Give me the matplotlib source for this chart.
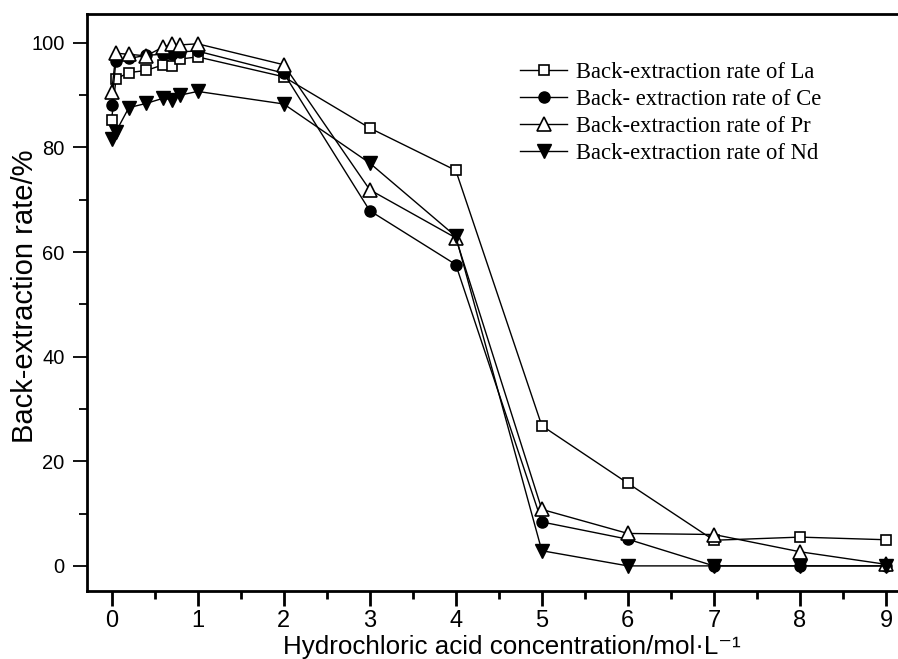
import matplotlib
matplotlib.use("Agg")
import matplotlib.pyplot as plt

x = [0, 0.05, 0.2, 0.4, 0.6, 0.7, 0.8, 1, 2, 3, 4, 5, 6, 7, 8, 9]
la = [85.3, 93.1, 94.3, 94.7, 95.8, 95.5, 96.9, 97.3, 93.5, 83.7, 75.6, 26.8, 15.8, 4.9, 5.5, 5.0]
ce = [88.1, 96.6, 97.0, 97.6, 97.8, 97.8, 98.3, 98.4, 94.2, 67.9, 57.6, 8.4, 5.1, 0.0, 0.0, 0.0]
pr = [90.6, 98.0, 97.8, 97.5, 99.2, 99.7, 99.6, 99.8, 95.8, 71.9, 62.7, 10.8, 6.2, 6.0, 2.7, 0.3]
nd = [81.6, 83.0, 87.6, 88.4, 89.4, 89.1, 90.0, 90.7, 88.3, 77.0, 63.0, 2.9, 0.0, 0.0, 0.0, 0.0]

labels = ["Back-extraction rate of La", "Back- extraction rate of Ce",
          "Back-extraction rate of Pr", "Back-extraction rate of Nd"]
xticks = [0, 1, 2, 3, 4, 5, 6, 7, 8, 9]
yticks = [0, 20, 40, 60, 80, 100]

sans = ["Liberation Sans", "DejaVu Sans"]

fig = plt.figure(figsize=(8.98, 6.59), dpi=100)
ax = fig.add_axes([86.7 / 898, 1 - 591 / 659, (898 - 86.7) / 898, (591 - 14) / 659])

lw = 1.0
ax.plot(x, la, color="black", lw=lw, marker="s", ms=7.5, mfc="white", mec="black", mew=1.2, label=labels[0], zorder=3)
ax.plot(x, ce, color="black", lw=lw, marker="o", ms=8, mfc="black", mec="black", mew=1.0, label=labels[1], zorder=4)
ax.plot(x, pr, color="black", lw=lw, marker="^", ms=10, mfc="white", mec="black", mew=1.2, label=labels[2], zorder=5)
ax.plot(x, nd, color="black", lw=lw, marker="v", ms=10, mfc="black", mec="black", mew=1.0, label=labels[3], zorder=6)

ax.set_xlim(-0.29, 9.14)
ax.set_ylim(-4.8, 105.5)
ax.set_xticks(xticks)
ax.set_xticks([v + 0.5 for v in xticks[:-1]], minor=True)
ax.set_yticks(yticks)
ax.set_yticks([10, 30, 50, 70, 90], minor=True)
ax.set_xticklabels([str(v) for v in xticks], fontfamily=sans, fontsize=17)
ax.set_yticklabels([str(v) for v in yticks], fontfamily=sans, fontsize=14.5)

ax.tick_params(axis="x", which="major", direction="out", length=11, width=2, pad=3)
ax.tick_params(axis="x", which="minor", direction="out", length=6, width=2)
ax.tick_params(axis="y", which="major", direction="out", length=10, width=1.3, pad=6)
ax.tick_params(axis="y", which="minor", direction="out", length=6, width=1.3)

for s in ["left", "bottom", "top"]:
    ax.spines[s].set_linewidth(2)
ax.spines["right"].set_visible(False)

ax.set_xlabel("Hydrochloric acid concentration/mol\u00b7L\u207b\u00b9", fontfamily=sans, fontsize=18.75)
ax.xaxis.set_label_coords(0.5236, -0.076)
ax.set_ylabel("Back-extraction rate/%", fontfamily=sans, fontsize=21)
ax.yaxis.set_label_coords(-0.059, 0.51)

leg = ax.legend(loc="upper left", bbox_to_anchor=(0.523, 0.933), frameon=False,
                prop={"family": "Liberation Serif", "size": 16.25},
                handlelength=2.1, handletextpad=0.4, labelspacing=0.27, borderaxespad=0)

fig.savefig("out.png", dpi=100)
